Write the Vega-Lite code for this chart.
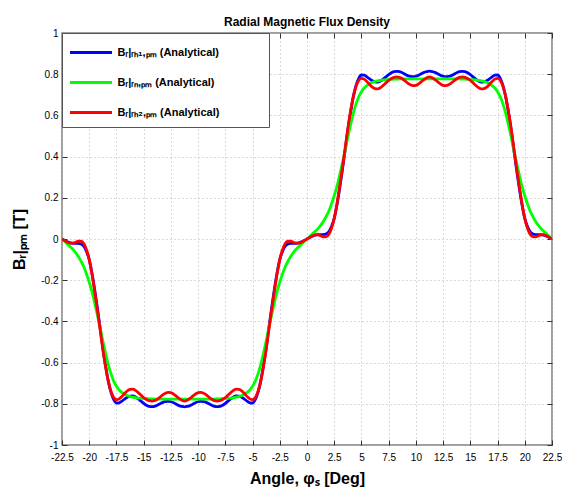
{
  "$schema": "https://vega.github.io/schema/vega-lite/v6.json",
  "width": 490,
  "height": 412,
  "autosize": "none",
  "padding": {"left": 62, "top": 33, "right": 12, "bottom": 44},
  "background": "white",
  "config": {
    "font": "Liberation Sans",
    "view": {"stroke": "#808080", "strokeWidth": 1.5}
  },
  "title": {"text": "Radial Magnetic Flux Density", "fontSize": 12, "fontWeight": "bold", "font": "Liberation Sans", "color": "black", "frame": "group", "offset": -1},
  "data": {"values": [
    {"angle": -22.5, "rh1": 0, "rn": 0, "rh2": 0},
    {"angle": -22.25, "rh1": -0.007, "rn": -0.012, "rh2": -0.008},
    {"angle": -22, "rh1": -0.014, "rn": -0.025, "rh2": -0.016},
    {"angle": -21.75, "rh1": -0.019, "rn": -0.037, "rh2": -0.02},
    {"angle": -21.5, "rh1": -0.021, "rn": -0.05, "rh2": -0.02},
    {"angle": -21.25, "rh1": -0.021, "rn": -0.066, "rh2": -0.016},
    {"angle": -21, "rh1": -0.021, "rn": -0.085, "rh2": -0.011},
    {"angle": -20.75, "rh1": -0.024, "rn": -0.108, "rh2": -0.011},
    {"angle": -20.5, "rh1": -0.035, "rn": -0.135, "rh2": -0.022},
    {"angle": -20.25, "rh1": -0.06, "rn": -0.17, "rh2": -0.052},
    {"angle": -20, "rh1": -0.1, "rn": -0.21, "rh2": -0.1},
    {"angle": -19.75, "rh1": -0.165, "rn": -0.255, "rh2": -0.17},
    {"angle": -19.5, "rh1": -0.245, "rn": -0.31, "rh2": -0.255},
    {"angle": -19.25, "rh1": -0.335, "rn": -0.37, "rh2": -0.345},
    {"angle": -19, "rh1": -0.43, "rn": -0.43, "rh2": -0.44},
    {"angle": -18.75, "rh1": -0.53, "rn": -0.495, "rh2": -0.535},
    {"angle": -18.5, "rh1": -0.615, "rn": -0.555, "rh2": -0.62},
    {"angle": -18.25, "rh1": -0.69, "rn": -0.61, "rh2": -0.69},
    {"angle": -18, "rh1": -0.745, "rn": -0.655, "rh2": -0.74},
    {"angle": -17.75, "rh1": -0.78, "rn": -0.69, "rh2": -0.77},
    {"angle": -17.5, "rh1": -0.796, "rn": -0.715, "rh2": -0.78},
    {"angle": -17.25, "rh1": -0.795, "rn": -0.733, "rh2": -0.776},
    {"angle": -17, "rh1": -0.787, "rn": -0.745, "rh2": -0.765},
    {"angle": -16.75, "rh1": -0.777, "rn": -0.754, "rh2": -0.75},
    {"angle": -16.5, "rh1": -0.768, "rn": -0.76, "rh2": -0.737},
    {"angle": -16.25, "rh1": -0.763, "rn": -0.765, "rh2": -0.73},
    {"angle": -16, "rh1": -0.762, "rn": -0.768, "rh2": -0.729},
    {"angle": -15.75, "rh1": -0.767, "rn": -0.77, "rh2": -0.735},
    {"angle": -15.5, "rh1": -0.776, "rn": -0.772, "rh2": -0.746},
    {"angle": -15.25, "rh1": -0.787, "rn": -0.773, "rh2": -0.758},
    {"angle": -15, "rh1": -0.798, "rn": -0.774, "rh2": -0.77},
    {"angle": -14.75, "rh1": -0.807, "rn": -0.775, "rh2": -0.779},
    {"angle": -14.5, "rh1": -0.812, "rn": -0.776, "rh2": -0.785},
    {"angle": -14.25, "rh1": -0.814, "rn": -0.776, "rh2": -0.787},
    {"angle": -14, "rh1": -0.812, "rn": -0.777, "rh2": -0.785},
    {"angle": -13.75, "rh1": -0.807, "rn": -0.777, "rh2": -0.778},
    {"angle": -13.5, "rh1": -0.8, "rn": -0.777, "rh2": -0.768},
    {"angle": -13.25, "rh1": -0.793, "rn": -0.777, "rh2": -0.757},
    {"angle": -13, "rh1": -0.789, "rn": -0.777, "rh2": -0.749},
    {"angle": -12.75, "rh1": -0.788, "rn": -0.777, "rh2": -0.745},
    {"angle": -12.5, "rh1": -0.79, "rn": -0.777, "rh2": -0.746},
    {"angle": -12.25, "rh1": -0.795, "rn": -0.777, "rh2": -0.753},
    {"angle": -12, "rh1": -0.802, "rn": -0.777, "rh2": -0.763},
    {"angle": -11.75, "rh1": -0.809, "rn": -0.777, "rh2": -0.774},
    {"angle": -11.5, "rh1": -0.813, "rn": -0.777, "rh2": -0.783},
    {"angle": -11.25, "rh1": -0.815, "rn": -0.777, "rh2": -0.787},
    {"angle": -11, "rh1": -0.813, "rn": -0.777, "rh2": -0.783},
    {"angle": -10.75, "rh1": -0.809, "rn": -0.777, "rh2": -0.774},
    {"angle": -10.5, "rh1": -0.802, "rn": -0.777, "rh2": -0.763},
    {"angle": -10.25, "rh1": -0.795, "rn": -0.777, "rh2": -0.753},
    {"angle": -10, "rh1": -0.79, "rn": -0.777, "rh2": -0.746},
    {"angle": -9.75, "rh1": -0.788, "rn": -0.777, "rh2": -0.745},
    {"angle": -9.5, "rh1": -0.789, "rn": -0.777, "rh2": -0.749},
    {"angle": -9.25, "rh1": -0.793, "rn": -0.777, "rh2": -0.757},
    {"angle": -9, "rh1": -0.8, "rn": -0.777, "rh2": -0.768},
    {"angle": -8.75, "rh1": -0.807, "rn": -0.777, "rh2": -0.778},
    {"angle": -8.5, "rh1": -0.812, "rn": -0.777, "rh2": -0.785},
    {"angle": -8.25, "rh1": -0.814, "rn": -0.776, "rh2": -0.787},
    {"angle": -8, "rh1": -0.812, "rn": -0.776, "rh2": -0.785},
    {"angle": -7.75, "rh1": -0.807, "rn": -0.775, "rh2": -0.779},
    {"angle": -7.5, "rh1": -0.798, "rn": -0.774, "rh2": -0.77},
    {"angle": -7.25, "rh1": -0.787, "rn": -0.773, "rh2": -0.758},
    {"angle": -7, "rh1": -0.776, "rn": -0.772, "rh2": -0.746},
    {"angle": -6.75, "rh1": -0.767, "rn": -0.77, "rh2": -0.735},
    {"angle": -6.5, "rh1": -0.762, "rn": -0.768, "rh2": -0.729},
    {"angle": -6.25, "rh1": -0.763, "rn": -0.765, "rh2": -0.73},
    {"angle": -6, "rh1": -0.768, "rn": -0.76, "rh2": -0.737},
    {"angle": -5.75, "rh1": -0.777, "rn": -0.754, "rh2": -0.75},
    {"angle": -5.5, "rh1": -0.787, "rn": -0.745, "rh2": -0.765},
    {"angle": -5.25, "rh1": -0.795, "rn": -0.733, "rh2": -0.776},
    {"angle": -5, "rh1": -0.796, "rn": -0.715, "rh2": -0.78},
    {"angle": -4.75, "rh1": -0.78, "rn": -0.69, "rh2": -0.77},
    {"angle": -4.5, "rh1": -0.745, "rn": -0.655, "rh2": -0.74},
    {"angle": -4.25, "rh1": -0.69, "rn": -0.61, "rh2": -0.69},
    {"angle": -4, "rh1": -0.615, "rn": -0.555, "rh2": -0.62},
    {"angle": -3.75, "rh1": -0.53, "rn": -0.495, "rh2": -0.535},
    {"angle": -3.5, "rh1": -0.43, "rn": -0.43, "rh2": -0.44},
    {"angle": -3.25, "rh1": -0.335, "rn": -0.37, "rh2": -0.345},
    {"angle": -3, "rh1": -0.245, "rn": -0.31, "rh2": -0.255},
    {"angle": -2.75, "rh1": -0.165, "rn": -0.255, "rh2": -0.17},
    {"angle": -2.5, "rh1": -0.1, "rn": -0.21, "rh2": -0.1},
    {"angle": -2.25, "rh1": -0.06, "rn": -0.17, "rh2": -0.052},
    {"angle": -2, "rh1": -0.035, "rn": -0.135, "rh2": -0.022},
    {"angle": -1.75, "rh1": -0.024, "rn": -0.108, "rh2": -0.011},
    {"angle": -1.5, "rh1": -0.021, "rn": -0.085, "rh2": -0.011},
    {"angle": -1.25, "rh1": -0.021, "rn": -0.066, "rh2": -0.016},
    {"angle": -1, "rh1": -0.021, "rn": -0.05, "rh2": -0.02},
    {"angle": -0.75, "rh1": -0.019, "rn": -0.037, "rh2": -0.02},
    {"angle": -0.5, "rh1": -0.014, "rn": -0.025, "rh2": -0.016},
    {"angle": -0.25, "rh1": -0.007, "rn": -0.012, "rh2": -0.008},
    {"angle": 0, "rh1": 0, "rn": 0, "rh2": 0},
    {"angle": 0.25, "rh1": 0.007, "rn": 0.012, "rh2": 0.008},
    {"angle": 0.5, "rh1": 0.014, "rn": 0.025, "rh2": 0.016},
    {"angle": 0.75, "rh1": 0.019, "rn": 0.037, "rh2": 0.02},
    {"angle": 1, "rh1": 0.021, "rn": 0.05, "rh2": 0.02},
    {"angle": 1.25, "rh1": 0.021, "rn": 0.066, "rh2": 0.016},
    {"angle": 1.5, "rh1": 0.021, "rn": 0.085, "rh2": 0.011},
    {"angle": 1.75, "rh1": 0.024, "rn": 0.108, "rh2": 0.011},
    {"angle": 2, "rh1": 0.035, "rn": 0.135, "rh2": 0.022},
    {"angle": 2.25, "rh1": 0.06, "rn": 0.17, "rh2": 0.052},
    {"angle": 2.5, "rh1": 0.1, "rn": 0.21, "rh2": 0.1},
    {"angle": 2.75, "rh1": 0.165, "rn": 0.255, "rh2": 0.17},
    {"angle": 3, "rh1": 0.245, "rn": 0.31, "rh2": 0.255},
    {"angle": 3.25, "rh1": 0.335, "rn": 0.37, "rh2": 0.345},
    {"angle": 3.5, "rh1": 0.43, "rn": 0.43, "rh2": 0.44},
    {"angle": 3.75, "rh1": 0.53, "rn": 0.495, "rh2": 0.535},
    {"angle": 4, "rh1": 0.615, "rn": 0.555, "rh2": 0.62},
    {"angle": 4.25, "rh1": 0.69, "rn": 0.61, "rh2": 0.69},
    {"angle": 4.5, "rh1": 0.745, "rn": 0.655, "rh2": 0.74},
    {"angle": 4.75, "rh1": 0.78, "rn": 0.69, "rh2": 0.77},
    {"angle": 5, "rh1": 0.796, "rn": 0.715, "rh2": 0.78},
    {"angle": 5.25, "rh1": 0.795, "rn": 0.733, "rh2": 0.776},
    {"angle": 5.5, "rh1": 0.787, "rn": 0.745, "rh2": 0.765},
    {"angle": 5.75, "rh1": 0.777, "rn": 0.754, "rh2": 0.75},
    {"angle": 6, "rh1": 0.768, "rn": 0.76, "rh2": 0.737},
    {"angle": 6.25, "rh1": 0.763, "rn": 0.765, "rh2": 0.73},
    {"angle": 6.5, "rh1": 0.762, "rn": 0.768, "rh2": 0.729},
    {"angle": 6.75, "rh1": 0.767, "rn": 0.77, "rh2": 0.735},
    {"angle": 7, "rh1": 0.776, "rn": 0.772, "rh2": 0.746},
    {"angle": 7.25, "rh1": 0.787, "rn": 0.773, "rh2": 0.758},
    {"angle": 7.5, "rh1": 0.798, "rn": 0.774, "rh2": 0.77},
    {"angle": 7.75, "rh1": 0.807, "rn": 0.775, "rh2": 0.779},
    {"angle": 8, "rh1": 0.812, "rn": 0.776, "rh2": 0.785},
    {"angle": 8.25, "rh1": 0.814, "rn": 0.776, "rh2": 0.787},
    {"angle": 8.5, "rh1": 0.812, "rn": 0.777, "rh2": 0.785},
    {"angle": 8.75, "rh1": 0.807, "rn": 0.777, "rh2": 0.778},
    {"angle": 9, "rh1": 0.8, "rn": 0.777, "rh2": 0.768},
    {"angle": 9.25, "rh1": 0.793, "rn": 0.777, "rh2": 0.757},
    {"angle": 9.5, "rh1": 0.789, "rn": 0.777, "rh2": 0.749},
    {"angle": 9.75, "rh1": 0.788, "rn": 0.777, "rh2": 0.745},
    {"angle": 10, "rh1": 0.79, "rn": 0.777, "rh2": 0.746},
    {"angle": 10.25, "rh1": 0.795, "rn": 0.777, "rh2": 0.753},
    {"angle": 10.5, "rh1": 0.802, "rn": 0.777, "rh2": 0.763},
    {"angle": 10.75, "rh1": 0.809, "rn": 0.777, "rh2": 0.774},
    {"angle": 11, "rh1": 0.813, "rn": 0.777, "rh2": 0.783},
    {"angle": 11.25, "rh1": 0.815, "rn": 0.777, "rh2": 0.787},
    {"angle": 11.5, "rh1": 0.813, "rn": 0.777, "rh2": 0.783},
    {"angle": 11.75, "rh1": 0.809, "rn": 0.777, "rh2": 0.774},
    {"angle": 12, "rh1": 0.802, "rn": 0.777, "rh2": 0.763},
    {"angle": 12.25, "rh1": 0.795, "rn": 0.777, "rh2": 0.753},
    {"angle": 12.5, "rh1": 0.79, "rn": 0.777, "rh2": 0.746},
    {"angle": 12.75, "rh1": 0.788, "rn": 0.777, "rh2": 0.745},
    {"angle": 13, "rh1": 0.789, "rn": 0.777, "rh2": 0.749},
    {"angle": 13.25, "rh1": 0.793, "rn": 0.777, "rh2": 0.757},
    {"angle": 13.5, "rh1": 0.8, "rn": 0.777, "rh2": 0.768},
    {"angle": 13.75, "rh1": 0.807, "rn": 0.777, "rh2": 0.778},
    {"angle": 14, "rh1": 0.812, "rn": 0.777, "rh2": 0.785},
    {"angle": 14.25, "rh1": 0.814, "rn": 0.776, "rh2": 0.787},
    {"angle": 14.5, "rh1": 0.812, "rn": 0.776, "rh2": 0.785},
    {"angle": 14.75, "rh1": 0.807, "rn": 0.775, "rh2": 0.779},
    {"angle": 15, "rh1": 0.798, "rn": 0.774, "rh2": 0.77},
    {"angle": 15.25, "rh1": 0.787, "rn": 0.773, "rh2": 0.758},
    {"angle": 15.5, "rh1": 0.776, "rn": 0.772, "rh2": 0.746},
    {"angle": 15.75, "rh1": 0.767, "rn": 0.77, "rh2": 0.735},
    {"angle": 16, "rh1": 0.762, "rn": 0.768, "rh2": 0.729},
    {"angle": 16.25, "rh1": 0.763, "rn": 0.765, "rh2": 0.73},
    {"angle": 16.5, "rh1": 0.768, "rn": 0.76, "rh2": 0.737},
    {"angle": 16.75, "rh1": 0.777, "rn": 0.754, "rh2": 0.75},
    {"angle": 17, "rh1": 0.787, "rn": 0.745, "rh2": 0.765},
    {"angle": 17.25, "rh1": 0.795, "rn": 0.733, "rh2": 0.776},
    {"angle": 17.5, "rh1": 0.796, "rn": 0.715, "rh2": 0.78},
    {"angle": 17.75, "rh1": 0.78, "rn": 0.69, "rh2": 0.77},
    {"angle": 18, "rh1": 0.745, "rn": 0.655, "rh2": 0.74},
    {"angle": 18.25, "rh1": 0.69, "rn": 0.61, "rh2": 0.69},
    {"angle": 18.5, "rh1": 0.615, "rn": 0.555, "rh2": 0.62},
    {"angle": 18.75, "rh1": 0.53, "rn": 0.495, "rh2": 0.535},
    {"angle": 19, "rh1": 0.43, "rn": 0.43, "rh2": 0.44},
    {"angle": 19.25, "rh1": 0.335, "rn": 0.37, "rh2": 0.345},
    {"angle": 19.5, "rh1": 0.245, "rn": 0.31, "rh2": 0.255},
    {"angle": 19.75, "rh1": 0.165, "rn": 0.255, "rh2": 0.17},
    {"angle": 20, "rh1": 0.1, "rn": 0.21, "rh2": 0.1},
    {"angle": 20.25, "rh1": 0.06, "rn": 0.17, "rh2": 0.052},
    {"angle": 20.5, "rh1": 0.035, "rn": 0.135, "rh2": 0.022},
    {"angle": 20.75, "rh1": 0.024, "rn": 0.108, "rh2": 0.011},
    {"angle": 21, "rh1": 0.021, "rn": 0.085, "rh2": 0.011},
    {"angle": 21.25, "rh1": 0.021, "rn": 0.066, "rh2": 0.016},
    {"angle": 21.5, "rh1": 0.021, "rn": 0.05, "rh2": 0.02},
    {"angle": 21.75, "rh1": 0.019, "rn": 0.037, "rh2": 0.02},
    {"angle": 22, "rh1": 0.014, "rn": 0.025, "rh2": 0.016},
    {"angle": 22.25, "rh1": 0.007, "rn": 0.012, "rh2": 0.008},
    {"angle": 22.5, "rh1": 0, "rn": 0, "rh2": 0}
  ]},
  "transform": [{"fold": ["rh1", "rn", "rh2"], "as": ["series", "B"]}],
  "layer": [
    {
      "mark": {"type": "line", "strokeWidth": 2.8, "interpolate": "monotone", "clip": true},
      "encoding": {
        "x": {"field": "angle", "type": "quantitative",
          "scale": {"domain": [-22.5, 22.5], "nice": false, "zero": false},
          "axis": {"orient": "bottom", "values": [-22.5, -20, -17.5, -15, -12.5, -10, -7.5, -5, -2.5, 0, 2.5, 5, 7.5, 10, 12.5, 15, 17.5, 20, 22.5],
            "labelExpr": "'' + datum.value", "labelFlush": false, "labelOverlap": false,
            "grid": true, "gridColor": "#b4b4b4", "gridDash": [1, 3], "gridWidth": 1,
            "domain": false, "ticks": true, "tickSize": -5, "tickColor": "#333333", "tickWidth": 1,
            "labelPadding": 12, "labelFontSize": 10, "labelColor": "black", "labelFont": "Liberation Sans",
            "title": "Angle, φₛ [Deg]", "titleFontSize": 16, "titleFontWeight": "bold", "titleColor": "black", "titleFont": "Liberation Sans", "titlePadding": 8}
        },
        "y": {"field": "B", "type": "quantitative",
          "scale": {"domain": [-1, 1], "nice": false, "zero": false},
          "axis": {"orient": "left", "values": [-1, -0.8, -0.6, -0.4, -0.2, 0, 0.2, 0.4, 0.6, 0.8, 1],
            "labelExpr": "'' + datum.value", "labelOverlap": false,
            "grid": true, "gridColor": "#b4b4b4", "gridDash": [1, 3], "gridWidth": 1,
            "domain": false, "ticks": true, "tickSize": -5, "tickColor": "#333333", "tickWidth": 1,
            "labelPadding": 9, "labelFontSize": 10, "labelColor": "black", "labelFont": "Liberation Sans",
            "title": "Bᵣ|ₚₘ [T]", "titleFontSize": 16, "titleFontWeight": "bold", "titleColor": "black", "titleFont": "Liberation Sans", "titlePadding": 13}
        },
        "color": {"field": "series", "type": "nominal",
          "scale": {"domain": ["rh1", "rn", "rh2"], "range": ["#0000ff", "#00ff00", "#ff0000"]},
          "legend": {"orient": "top-left", "offset": 0, "title": null,
            "labelExpr": "datum.label == 'rh1' ? 'Bᵣ|ᵣₕ₁,ₚₘ (Analytical)\u2003\u2003\u2003\u2800' : datum.label == 'rn' ? 'Bᵣ|ᵣₙ,ₚₘ (Analytical)' : 'Bᵣ|ᵣₕ₂,ₚₘ (Analytical)'",
            "symbolType": "M-2.1,0H2.1", "symbolSize": 400, "symbolStrokeWidth": 3, "symbolOffset": 9.5,
            "labelFontSize": 11, "labelFontWeight": "bold", "labelFont": "Liberation Sans", "labelColor": "black", "labelLimit": 0,
            "labelOffset": 15, "rowPadding": 12, "padding": 8,
            "strokeColor": "#555555", "fillColor": "white", "cornerRadius": 0}
        }
      }
    },
    {
      "mark": {"type": "point", "opacity": 0},
      "encoding": {
        "x": {"field": "angle", "type": "quantitative",
          "axis": {"orient": "top", "values": [-22.5, -20, -17.5, -15, -12.5, -10, -7.5, -5, -2.5, 0, 2.5, 5, 7.5, 10, 12.5, 15, 17.5, 20, 22.5],
            "labels": false, "grid": false, "domain": false, "tickSize": -5, "tickColor": "#333333", "tickWidth": 1, "title": null}
        },
        "y": {"field": "B", "type": "quantitative",
          "axis": {"orient": "right", "values": [-1, -0.8, -0.6, -0.4, -0.2, 0, 0.2, 0.4, 0.6, 0.8, 1],
            "labels": false, "grid": false, "domain": false, "tickSize": -5, "tickColor": "#333333", "tickWidth": 1, "title": null}
        }
      }
    }
  ],
  "resolve": {"axis": {"x": "independent", "y": "independent"}}
}
